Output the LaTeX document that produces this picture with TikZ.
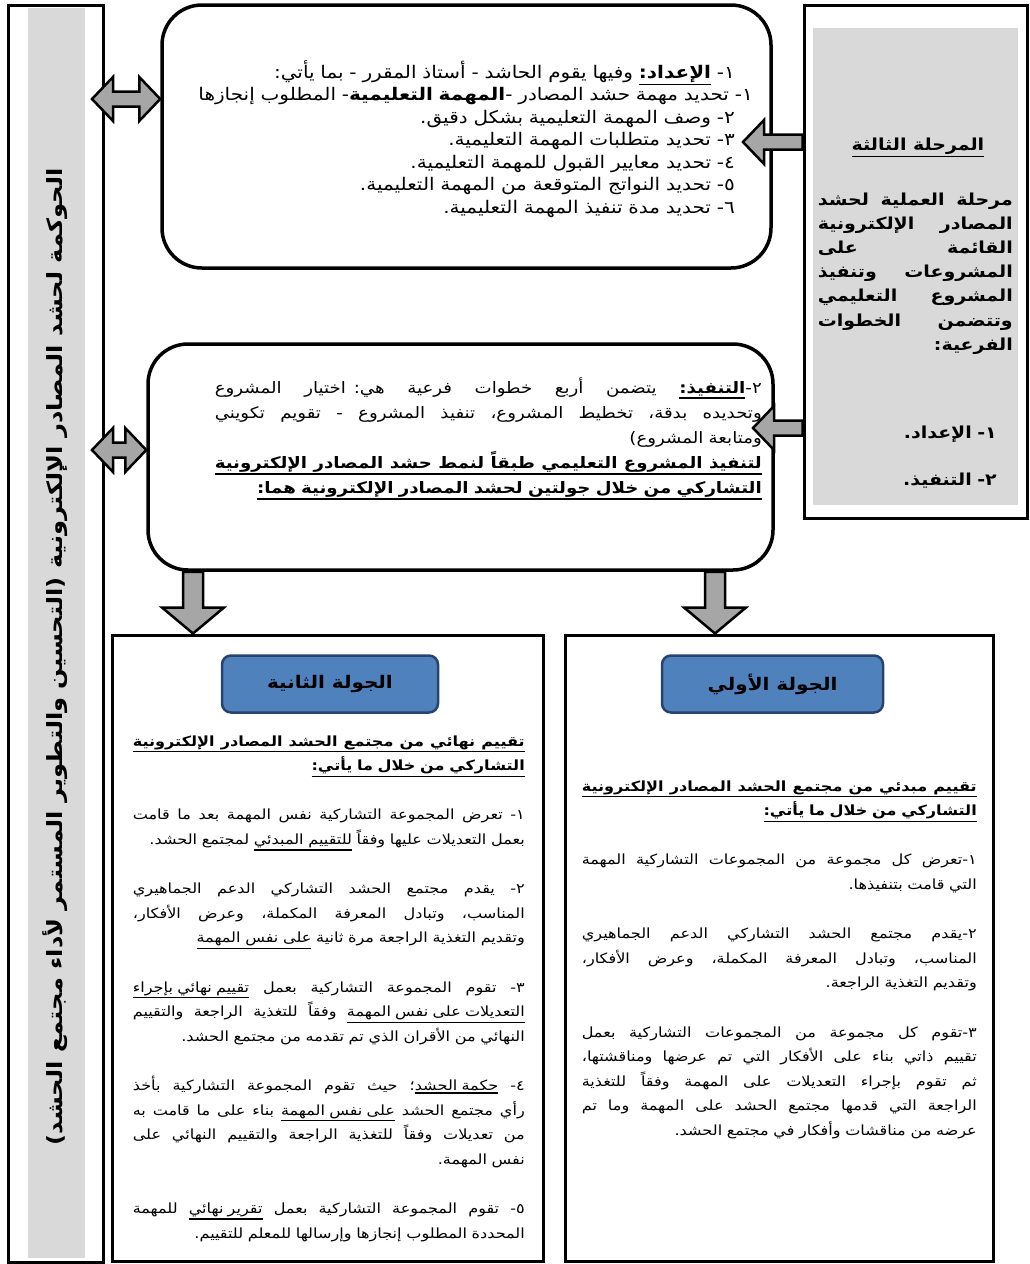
\documentclass[tikz,border=0pt]{standalone}
\usepackage{fontspec}
\usetikzlibrary{calc}
\newfontfamily\arabicfont[Script=Arabic, FakeStretch=1.15]{DejaVu Sans}
\TeXXeTstate=1
\lineskiplimit=-50pt
\definecolor{panelgray}{RGB}{217,217,217}
\definecolor{arrowgray}{RGB}{166,166,166}
\definecolor{roundblue}{RGB}{79,129,189}
\definecolor{roundedge}{RGB}{40,68,110}

% --- one right-to-left line: flush right / stretched / underlined ---
\newcommand\rl[2][0pt]{\hbox to \linewidth{\hfil\beginR #2\endR\kern#1}\par}
\newcommand\jl[1]{\hbox to \linewidth{\spaceskip=.3em plus 1fil\relax\beginR #1\endR}\par}
\newcommand\jlu[1]{\vtop{\jl{#1}\kern1.5pt\hrule height 1.5pt}\par}
\newcommand\ul[1]{\vtop{\hbox{\beginR #1\endR}\kern1.5pt\hrule height 1.5pt}}
\newcommand\gap{\vskip\baselineskip}

\begin{document}
\begin{tikzpicture}[x=1pt, y=-1pt, font=\arabicfont,
  frame/.style={draw, line width=3pt, inner sep=0pt},
  softframe/.style={draw, line width=3.5pt, rounded corners=40pt, inner sep=0pt},
  band/.style={fill=panelgray, inner sep=0pt},
  roundhdr/.style={draw=roundedge, fill=roundblue, line width=2.5pt,
    rounded corners=9pt, minimum height=57pt, inner sep=0pt,
    font=\arabicfont\fontsize{17.4}{20}\selectfont\bfseries},
  txt/.style={inner sep=0pt, anchor=base east},
  arrowbody/.style={draw=black, fill=arrowgray, line width=2.5pt},
  fatarrow/.style n args={3}{arrowbody, to path={
    -- ($(\tikztostart)!#1!90:(\tikztotarget)$)
    -- ($(\tikztotarget)!#3!(\tikztostart)!#1!90:(\tikztotarget)$)
    -- ($(\tikztotarget)!#3!(\tikztostart)!#2!90:(\tikztotarget)$)
    -- (\tikztotarget)
    -- ($(\tikztotarget)!#3!(\tikztostart)!#2!-90:(\tikztotarget)$)
    -- ($(\tikztotarget)!#3!(\tikztostart)!#1!-90:(\tikztotarget)$)
    -- ($(\tikztostart)!#1!-90:(\tikztotarget)$)
    -- cycle}},
  twinarrow/.style n args={3}{arrowbody, to path={
    -- ($(\tikztostart)!#3!(\tikztotarget)!#2!90:(\tikztotarget)$)
    -- ($(\tikztostart)!#3!(\tikztotarget)!#1!90:(\tikztotarget)$)
    -- ($(\tikztotarget)!#3!(\tikztostart)!#1!90:(\tikztotarget)$)
    -- ($(\tikztotarget)!#3!(\tikztostart)!#2!90:(\tikztotarget)$)
    -- (\tikztotarget)
    -- ($(\tikztotarget)!#3!(\tikztostart)!#2!-90:(\tikztotarget)$)
    -- ($(\tikztotarget)!#3!(\tikztostart)!#1!-90:(\tikztotarget)$)
    -- ($(\tikztostart)!#3!(\tikztotarget)!#1!-90:(\tikztotarget)$)
    -- ($(\tikztostart)!#3!(\tikztotarget)!#2!-90:(\tikztotarget)$)
    -- cycle}}]

\useasboundingbox (0,0) rectangle (1029,1264);

% === left bar: governance =========================================
\node[band, minimum width=57pt, minimum height=1250pt] (barband) at (56.5,633) {};
\node[frame, minimum width=95pt, minimum height=1257pt] (bar) at (55.5,633.5) {};
\node[rotate=90, inner sep=0pt, font=\arabicfont\fontsize{21}{24}\selectfont\bfseries]
  (bartext) at (55,657)
  {\beginR الحوكمة لحشد المصادر الإلكترونية (التحسين والتطوير المستمر لأداء مجتمع الحشد)\endR};

% === right panel: third phase =====================================
\node[band, minimum width=205pt, minimum height=477pt] (phaseband) at (915.5,266.5) {};
\node[frame, minimum width=223pt, minimum height=513pt] (phase) at (915.5,261.5) {};
\node[inner sep=0pt, anchor=base, font=\arabicfont\fontsize{16.5}{20}\selectfont]
  (phasetitle) at (918,150) {\ul{\bfseries المرحلة الثالثة}};
\node[txt, text width=195pt, font=\arabicfont\fontsize{16.5}{24.2}\selectfont\bfseries]
  (phasetext) at (1013,205) {%
  \jl{مرحلة العملية لحشد}
  \jl{المصادر الإلكترونية}
  \jl{القائمة على}
  \jl{المشروعات وتنفيذ}
  \jl{المشروع التعليمي}
  \jl{وتتضمن الخطوات}
  \rl{الفرعية:}};
\node[txt, text width=100pt, font=\arabicfont\fontsize{16.5}{47}\selectfont\bfseries]
  (phasesteps) at (997,438) {%
  \rl{١- الإعداد.}
  \rl{٢- التنفيذ.}};

% === preparation box ==============================================
\node[softframe, minimum width=609pt, minimum height=263pt] (prep) at (466.5,136.5) {};
\node[txt, text width=563pt, font=\arabicfont\fontsize{17.4}{22.5}\selectfont]
  (preptext) at (753,78) {%
  \rl[18pt]{١- \ul{\bfseries الإعداد:} وفيها يقوم الحاشد - أستاذ المقرر - بما يأتي:}
  \rl{١- تحديد مهمة حشد المصادر -{\bfseries المهمة التعليمية}- المطلوب إنجازها}
  \rl[18pt]{٢- وصف المهمة التعليمية بشكل دقيق.}
  \rl[18pt]{٣- تحديد متطلبات المهمة التعليمية.}
  \rl[18pt]{٤- تحديد معايير القبول للمهمة التعليمية.}
  \rl[18pt]{٥- تحديد النواتج المتوقعة من المهمة التعليمية.}
  \rl[18pt]{٦- تحديد مدة تنفيذ المهمة التعليمية.}};

% === execution box ================================================
\node[softframe, minimum width=625pt, minimum height=226pt] (exec) at (460.5,457) {};
\node[txt, text width=547pt, font=\arabicfont\fontsize{15.8}{25}\selectfont]
  (exectext) at (762,393) {%
  \jl{٢-\ul{\bfseries التنفيذ:} يتضمن أربع خطوات فرعية هي: اختيار المشروع}
  \jl{وتحديده بدقة، تخطيط المشروع، تنفيذ المشروع - تقويم تكويني}
  \rl{ومتابعة المشروع)}
  \jlu{\bfseries لتنفيذ المشروع التعليمي طبقاً لنمط حشد المصادر الإلكترونية}
  \rl{\ul{\bfseries التشاركي من خلال جولتين لحشد المصادر الإلكترونية هما:}}};

% === second round (left) ==========================================
\node[frame, minimum width=431pt, minimum height=626pt] (rtwo) at (327.5,948) {};
\node[roundhdr, minimum width=216pt] (hdrtwo) at (330,684) {\beginR الجولة الثانية\endR};
\node[txt, text width=392pt, font=\arabicfont\fontsize{14}{24.6}\selectfont]
  (rtwotext) at (525,746) {%
  \jlu{\bfseries تقييم نهائي من مجتمع الحشد المصادر الإلكترونية}
  \rl{\ul{\bfseries التشاركي من خلال ما يأتي:}}
  \gap
  \jl{١- تعرض المجموعة التشاركية نفس المهمة بعد ما قامت}
  \rl{بعمل التعديلات عليها وفقاً \ul{للتقييم المبدئي} لمجتمع الحشد.}
  \gap
  \jl{٢- يقدم مجتمع الحشد التشاركي الدعم الجماهيري}
  \jl{المناسب، وتبادل المعرفة المكملة، وعرض الأفكار،}
  \rl{وتقديم التغذية الراجعة مرة ثانية \ul{على نفس المهمة}}
  \gap
  \jl{٣- تقوم المجموعة التشاركية بعمل \ul{تقييم نهائي بإجراء}}
  \jl{\ul{التعديلات على نفس المهمة} وفقاً للتغذية الراجعة والتقييم}
  \rl{النهائي من الأقران الذي تم تقدمه من مجتمع الحشد.}
  \gap
  \jl{٤- \ul{حكمة الحشد}؛ حيث تقوم المجموعة التشاركية بأخذ}
  \jl{رأي مجتمع الحشد \ul{على نفس المهمة} بناء على ما قامت به}
  \jl{من تعديلات وفقاً للتغذية الراجعة والتقييم النهائي على}
  \rl{نفس المهمة.}
  \gap
  \jl{٥- تقوم المجموعة التشاركية بعمل \ul{تقرير نهائي} للمهمة}
  \rl{المحددة المطلوب إنجازها وإرسالها للمعلم للتقييم.}};

% === first round (right) ==========================================
\node[frame, minimum width=428pt, minimum height=626pt] (rone) at (779,948) {};
\node[roundhdr, minimum width=221pt] (hdrone) at (772.5,684) {\beginR الجولة الأولي\endR};
\node[txt, text width=395pt, font=\arabicfont\fontsize{14}{24.6}\selectfont]
  (ronetext) at (977,791) {%
  \jlu{\bfseries تقييم مبدئي من مجتمع الحشد المصادر الإلكترونية}
  \rl{\ul{\bfseries التشاركي من خلال ما يأتي:}}
  \gap
  \jl{١-تعرض كل مجموعة من المجموعات التشاركية المهمة}
  \rl{التي قامت بتنفيذها.}
  \gap
  \jl{٢-يقدم مجتمع الحشد التشاركي الدعم الجماهيري}
  \jl{المناسب، وتبادل المعرفة المكملة، وعرض الأفكار،}
  \rl{وتقديم التغذية الراجعة.}
  \gap
  \jl{٣-تقوم كل مجموعة من المجموعات التشاركية بعمل}
  \jl{تقييم ذاتي بناء على الأفكار التي تم عرضها ومناقشتها،}
  \jl{ثم تقوم بإجراء التعديلات على المهمة وفقاً للتغذية}
  \jl{الراجعة التي قدمها مجتمع الحشد على المهمة وما تم}
  \rl{عرضه من مناقشات وأفكار في مجتمع الحشد.}};

% --- arrow end points ----------------------------------------------
\coordinate (pa) at (phase.west |- 0,142);
\coordinate (pb) at (743,142);
\coordinate (pc) at (phase.west |- 0,428);
\coordinate (pd) at (753,428);
\coordinate (ba) at (92,99);
\coordinate (bb) at (prep.west |- 0,99);
\coordinate (bc) at (92,450);
\coordinate (bd) at (exec.west |- 0,450);
\coordinate (da) at (exec.south -| 193,0);
\coordinate (db) at (rtwo.north -| 193,0);
\coordinate (dc) at (exec.south -| 715,0);
\coordinate (dd) at (rone.north -| 715,0);

% --- block arrows ---------------------------------------------------
\draw[fatarrow={7.5pt}{22pt}{21pt}] (pa) to (pb);
\draw[fatarrow={7.5pt}{22pt}{21pt}] (pc) to (pd);
\draw[twinarrow={7.5pt}{22pt}{21pt}] (ba) to (bb);
\draw[twinarrow={7.5pt}{22pt}{21pt}] (bc) to (bd);
\draw[fatarrow={10pt}{31pt}{26pt}] (da) to (db);
\draw[fatarrow={10pt}{31pt}{26pt}] (dc) to (dd);

\end{tikzpicture}
\end{document}
